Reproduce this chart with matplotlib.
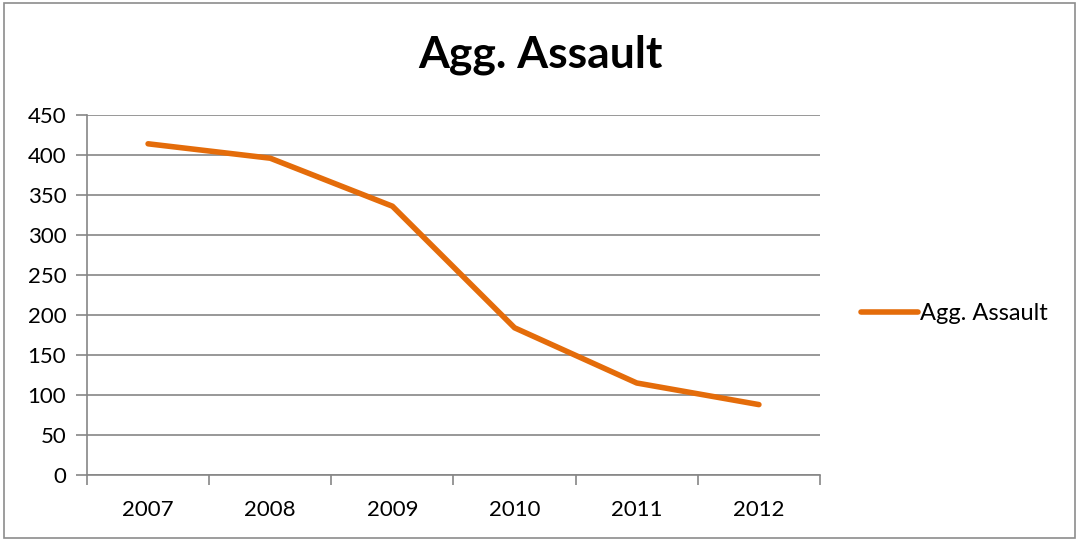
import matplotlib
matplotlib.use("Agg")
import matplotlib.pyplot as plt
from matplotlib.patches import Rectangle
from matplotlib.ticker import FixedLocator

years = ["2007", "2008", "2009", "2010", "2011", "2012"]
values = [414, 396, 336, 184, 115, 88]
series_name = "Agg. Assault"
title = "Agg. Assault"
y_ticks = [0, 50, 100, 150, 200, 250, 300, 350, 400, 450]

plt.rcParams['font.family'] = ['Lato', 'DejaVu Sans']
W, H = 1078, 541
fig = plt.figure(figsize=(W/100, H/100), dpi=100)
fig.patch.set_facecolor("white")
fig.add_artist(Rectangle((4/W, 3/H), 1071/W, 535/H, transform=fig.transFigure,
                         fill=False, edgecolor="#8c8c8c", linewidth=1.2))

ax = fig.add_axes([87/W, 1-475/H, (820-87)/W, (475-115)/H])
x = list(range(len(years)))
line, = ax.plot(x, values, color="#E46C0A", linewidth=4, solid_capstyle="round",
                solid_joinstyle="round", label=series_name)
ax.set_xlim(-0.5, len(years)-0.5)
ax.set_ylim(0, 450)
ax.set_yticks(y_ticks)
ax.set_yticklabels([str(v) for v in y_ticks], fontsize=16)
ax.set_xticks(x)
ax.set_xticklabels(years, fontsize=16)
ax.xaxis.set_minor_locator(FixedLocator([i-0.5 for i in range(len(years)+1)]))
ax.tick_params(axis="x", which="major", length=0, pad=18)
ax.tick_params(axis="x", which="minor", length=7, color="#868686", width=1.2)
ax.tick_params(axis="y", length=8, color="#868686", width=1.2, pad=7)
ax.grid(axis="y", color="#868686", linewidth=1.2)
ax.set_axisbelow(True)
for s in ["top", "right"]:
    ax.spines[s].set_visible(False)
for s in ["left", "bottom"]:
    ax.spines[s].set_color("#868686")
    ax.spines[s].set_linewidth(1.2)

fig.text(540/W, 1-55/H, title, ha="center", va="center", fontsize=32, fontweight="bold")

leg = fig.legend(handles=[line], loc="center left", bbox_to_anchor=(852/W, 1-314/H),
                 frameon=False, fontsize=17, handlelength=2.4, handletextpad=0.1,
                 borderaxespad=0)

fig.savefig("out.png", dpi=100)
